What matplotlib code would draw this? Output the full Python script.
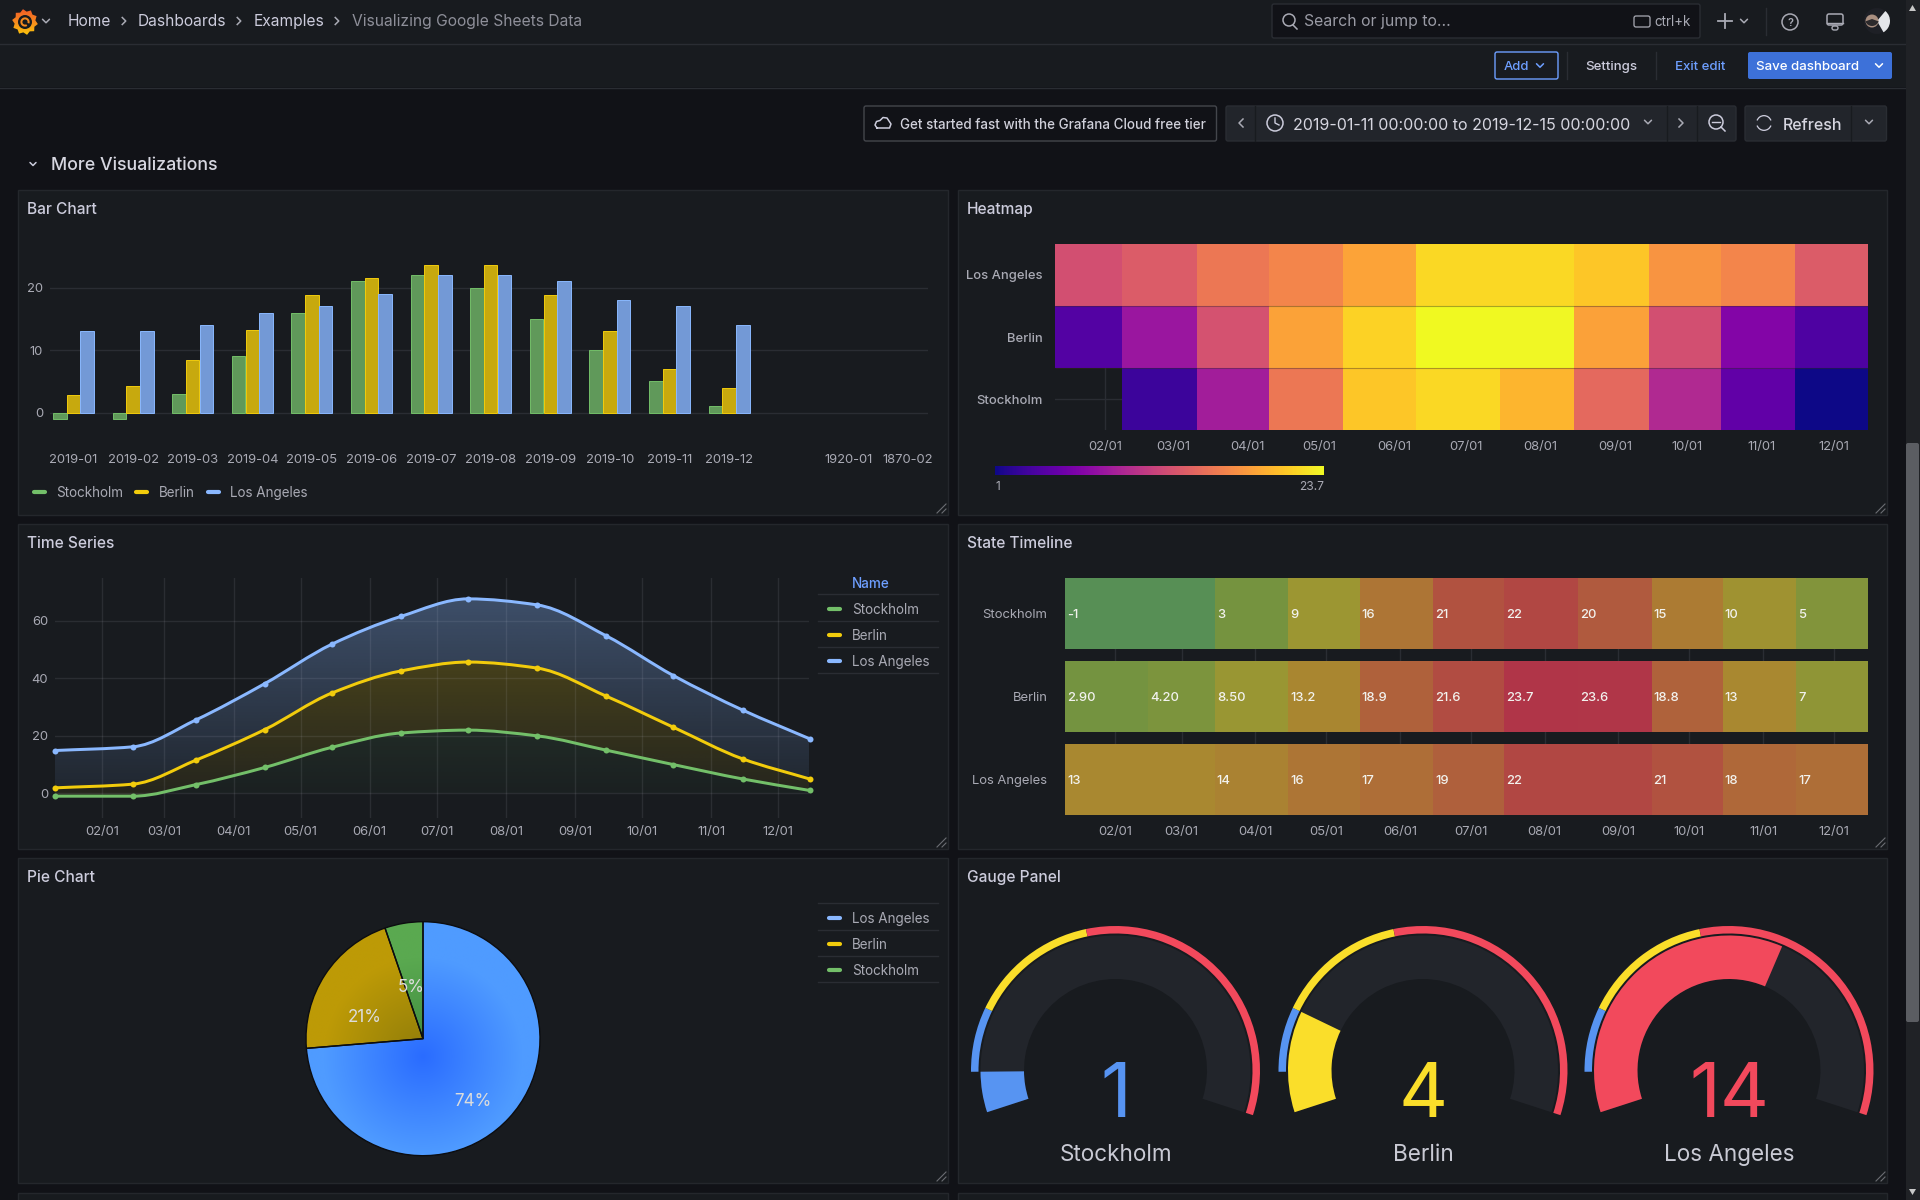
import numpy as np
import matplotlib
matplotlib.use("Agg")
import matplotlib.pyplot as plt
import matplotlib.dates as mdates
from datetime import datetime
from matplotlib.path import Path
from matplotlib.patches import Rectangle, FancyBboxPatch, Circle, Wedge, PathPatch, Polygon
from matplotlib.colors import LinearSegmentedColormap, to_rgb
from matplotlib.cm import ScalarMappable
from matplotlib.colors import Normalize

plt.rcParams['font.family'] = ['Inter', 'DejaVu Sans']

# data
cities = ["Stockholm", "Berlin", "Los Angeles"]
dates = ["2019-01-11", "2019-02-15", "2019-03-15", "2019-04-15", "2019-05-15", "2019-06-15",
         "2019-07-15", "2019-08-15", "2019-09-15", "2019-10-15", "2019-11-15", "2019-12-15"]
stockholm = [-1, -1, 3, 9, 16, 21, 22, 20, 15, 10, 5, 1]
berlin = [2.9, 4.2, 8.5, 13.2, 18.9, 21.6, 23.7, 23.6, 18.8, 13, 7, 4]
los_angeles = [13, 13, 14, 16, 17, 19, 22, 22, 21, 18, 17, 14]
berlin_labels = ["2.90", "4.20", "8.50", "13.2", "18.9", "21.6", "23.7", "23.6", "18.8", "13", "7", "4"]
bar_labels = ["2019-01", "2019-02", "2019-03", "2019-04", "2019-05", "2019-06", "2019-07", "2019-08",
              "2019-09", "2019-10", "2019-11", "2019-12", "", "1920-01", "1870-02"]
heat_edges = ["2019-01-11", "2019-02-08", "2019-03-11", "2019-04-10", "2019-05-11", "2019-06-10",
              "2019-07-15", "2019-08-15", "2019-09-15", "2019-10-15", "2019-11-15", "2019-12-15"]
pie_names = ["Los Angeles", "Berlin", "Stockholm"]
pie_values = [14, 4, 1]
pie_labels = ["74%", "21%", "5%"]
gauge_min = -1
gauge_max = 23.7
gauge_thresholds = [1, 4, 10, 23.7]

# colours
CANVAS = "#111217"
PANEL = "#181b1f"
BORDER = "#24272c"
GRID = "#2a2d33"
TEXT = "#ccccdc"
TEXT2 = "#a9aab4"
GREEN, YELLOW, BLUE = "#73bf69", "#f2cc0c", "#8ab8ff"
GAUGE_COLS = ["#5794f2", "#fade2a", "#f2495c"]

W, H = 1920, 1200
fig = plt.figure(figsize=(W / 100, H / 100), dpi=100, facecolor=CANVAS)


def ax_px(x0, y0, x1, y1):
    a = fig.add_axes([x0 / W, 1 - y1 / H, (x1 - x0) / W, (y1 - y0) / H])
    a.patch.set_alpha(0)
    return a


def date_nums(lst):
    return mdates.date2num([datetime.strptime(d, "%Y-%m-%d") for d in lst])


def pt(px):
    return px * 0.72


# background layer, in pixels
bg = ax_px(0, 0, W, H)
bg.set_xlim(0, W)
bg.set_ylim(H, 0)
bg.axis("off")


def rect(x0, y0, x1, y1, fc, ec="none", lw=1, z=1):
    bg.add_patch(Rectangle((x0, y0), x1 - x0, y1 - y0, fc=fc, ec=ec, lw=lw, zorder=z))


def rbox(x0, y0, x1, y1, fc, ec="none", lw=1, z=2):
    bg.add_patch(FancyBboxPatch((x0 + 2, y0 + 2), x1 - x0 - 4, y1 - y0 - 4, boxstyle="round,pad=2",
                                fc=fc, ec=ec, lw=lw, zorder=z))


def txt(x, y, s, px=14, c=TEXT, ha="left", w="normal"):
    bg.text(x, y, s, fontsize=pt(px), color=c, ha=ha, va="center_baseline", fontweight=w, zorder=5)


def chevron(x, y, c=TEXT2, s=3.5, up=False):
    d = -1 if up else 1
    bg.plot([x - s, x, x + s], [y - d * s / 2, y + d * s / 2, y - d * s / 2], color=c, lw=1.1, zorder=5,
            solid_capstyle="round")


def side(x, y, right=True, c=TEXT2, s=4):
    d = 1 if right else -1
    bg.plot([x - d * s / 2, x + d * s / 2, x - d * s / 2], [y - s, y, y + s], color=c, lw=1.1, zorder=5)


def vline(x, y0, y1, c=GRID):
    bg.plot([x, x], [y0, y1], color=c, lw=1, zorder=4)


def swatch(x0, x1, y, c):
    bg.plot([x0 + 2, x1 - 2], [y, y], color=c, lw=3, solid_capstyle="round", zorder=5)


def panel(x0, y0, x1, y1, title):
    rect(x0, y0, x1, y1, PANEL, ec=BORDER)
    txt(x0 + 9, y0 + 18, title, px=15.5, c=TEXT, w=500)
    for d in (5, 10):
        bg.plot([x1 - d - 1, x1 - 2], [y1 - 2, y1 - d - 1], color="#6b6d73", lw=0.8, zorder=5)


# top bars
rect(0, 0, W, 43.5, PANEL)
rect(0, 44, W, 87, PANEL)
bg.plot([0, W], [43.5, 43.5], color=GRID, lw=1, zorder=2)
bg.plot([0, W], [87.5, 87.5], color=GRID, lw=1, zorder=2)

# logo
ang = np.radians(np.arange(0, 360, 18) + 9)
rad_logo = np.where(np.arange(20) % 2 == 0, 13.0, 10.5)
star = Polygon(np.c_[25 + rad_logo * np.cos(ang), 22 + rad_logo * np.sin(ang)], fc="none", ec="none", zorder=3)
bg.add_patch(star)
logo = bg.imshow(np.linspace(0, 1, 32)[:, None], extent=(11, 39, 36, 8), aspect="auto", zorder=3, origin="upper",
                 cmap=LinearSegmentedColormap.from_list("logo", ["#f05a28", "#f78a1e", "#fbca0a"]))
logo.set_clip_path(star)
bg.set_xlim(0, W)
bg.set_ylim(H, 0)
bg.add_patch(Circle((25, 22), 7, fc=PANEL, zorder=4))
bg.add_patch(Wedge((25, 22), 4.6, 60, 380, width=2, fc="#f78a1e", zorder=4))
chevron(46, 21)

txt(68, 20, "Home", 15.5)
txt(138, 20, "Dashboards", 15.5)
txt(254, 20, "Examples", 15.5)
txt(352, 20, "Visualizing Google Sheets Data", 15.6, c="#8e8f99")
for sx in (124, 239, 337):
    side(sx, 21, s=3.5)

# search box and header icons
rbox(1272, 4, 1700, 38, CANVAS, ec=GRID)
bg.add_patch(Circle((1289, 20), 6, fc="none", ec=TEXT2, lw=1.1, zorder=5))
bg.plot([1293, 1297], [25, 29], color=TEXT2, lw=1.1, zorder=5)
txt(1304, 20, "Search or jump to...", 15.8, c="#9a9ba5")
rbox(1634, 16, 1650, 27, "none", ec=TEXT2, lw=0.9)
txt(1654, 21, "ctrl+k", 13.4, c=TEXT2)
bg.plot([1718, 1732], [21, 21], color=TEXT2, lw=1.3, zorder=5)
bg.plot([1725, 1725], [14, 28], color=TEXT2, lw=1.3, zorder=5)
chevron(1744, 21)
vline(1766, 8, 35)
bg.add_patch(Circle((1790, 22), 8, fc="none", ec=TEXT2, lw=1.1, zorder=5))
txt(1790, 22, "?", 11, c=TEXT2, ha="center", w=600)
rbox(1827, 14, 1843, 25, "none", ec=TEXT2, lw=1.1)
bg.plot([1827, 1843], [23, 23], color=TEXT2, lw=1, zorder=5)
rbox(1832, 26, 1838, 30, "none", ec=TEXT2, lw=1)
bg.add_patch(Circle((1877, 21), 13, fc="#1e2026", zorder=3))
bg.add_patch(Wedge((1877, 21), 13, -50, 60, fc="#e4e6ea", zorder=3))
bg.add_patch(Circle((1872, 21), 6.5, fc="#a98f80", zorder=4))
bg.add_patch(Wedge((1872, 19), 7, 20, 160, fc="#2c2a2c", zorder=4))

# toolbar
rbox(1495, 52, 1558, 79, "none", ec="#6e9fff", lw=1)
txt(1504, 65.5, "Add", 13, c="#6e9fff", w=500)
chevron(1540, 65.5, c="#6e9fff")
vline(1567, 52, 79)
txt(1611.5, 65.5, "Settings", 13.3, ha="center", w=500)
vline(1656, 52, 79)
txt(1700, 65.5, "Exit edit", 13.3, c="#6e9fff", ha="center", w=500)
rbox(1748, 52, 1892, 79, "#3d71d9")
txt(1756, 65.5, "Save dashboard", 13.3, c="#ffffff", w=500)
chevron(1879, 65.5, c="#ffffff")

# time controls
rbox(864, 106, 1216.5, 141, CANVAS, ec="#44464c")
txt(900, 123.5, "Get started fast with the Grafana Cloud free tier", 13.45, c="#d0d0da", w=500)
bg.plot([877, 875, 876.5, 880, 883, 887, 889, 891, 889.5, 877], [128, 125, 121.5, 120.5, 117.5, 118, 121, 124, 128, 128],
        color=TEXT, lw=1.1, zorder=5)
rbox(1226, 106, 1736, 141, "#22252b", ec=GRID)
for vx in (1255, 1667, 1697):
    vline(vx, 106, 141, c="#181b1f")
side(1241, 123, right=False)
bg.add_patch(Circle((1275, 123), 8, fc="none", ec=TEXT, lw=1.1, zorder=5))
bg.plot([1275, 1275, 1279], [118, 123, 125], color=TEXT, lw=1, zorder=5)
txt(1293, 123.5, "2019-01-11 00:00:00 to 2019-12-15 00:00:00", 16, c="#d6d6e0")
chevron(1648, 122)
side(1681, 123)
bg.add_patch(Circle((1716, 122), 7, fc="none", ec=TEXT, lw=1.1, zorder=5))
bg.plot([1712, 1720], [122, 122], color=TEXT, lw=1, zorder=5)
bg.plot([1721, 1725], [127, 131], color=TEXT, lw=1.1, zorder=5)
rbox(1745, 106, 1886.5, 141, "#22252b", ec=GRID)
vline(1851, 106, 141, c="#181b1f")
bg.add_patch(Wedge((1764, 123), 8, 20, 160, width=1.3, fc=TEXT, zorder=5))
bg.add_patch(Wedge((1764, 123), 8, 200, 340, width=1.3, fc=TEXT, zorder=5))
txt(1783, 123.5, "Refresh", 16, c="#d6d6e0", w=500)
chevron(1869, 122)

# row title
chevron(33, 164, c=TEXT, s=3)
txt(51, 164, "More Visualizations", 17.8, c="#d6d6e0", w=500)

# panels
panel(18, 190, 948, 515, "Bar Chart")
panel(958, 190, 1887, 515, "Heatmap")
panel(18, 524, 948, 849, "Time Series")
panel(958, 524, 1887, 849, "State Timeline")
panel(18, 858, 948, 1183, "Pie Chart")
panel(958, 858, 1887, 1183, "Gauge Panel")
rect(18, 1193, 948, 1201, PANEL, ec=BORDER)
rect(958, 1193, 1887, 1201, PANEL, ec=BORDER)

# scrollbar
rect(1905.5, 0, W, H, "#202226", z=3)
rbox(1906, 443, 1919, 1022, "#5b5d62", z=3)
bg.add_patch(Polygon([[1909, 11], [1912.5, 5], [1916, 11]], fc="#c8c8c8", zorder=5))
bg.add_patch(Polygon([[1909, 1189], [1912.5, 1195], [1916, 1189]], fc="#c8c8c8", zorder=5))


def style_axes(a):
    for s in a.spines.values():
        s.set_visible(False)
    a.tick_params(length=0, colors=TEXT2, labelsize=pt(13))


# bar chart
ax = ax_px(50, 230, 928, 445)
style_axes(ax)
slot = 59.6
ax.set_xlim((50 - 73.5) / slot, (928 - 73.5) / slot)
ax.set_ylim((412.7 - 445) / 6.25, (412.7 - 230) / 6.25)
x = np.arange(len(stockholm))
bar_w = 0.226
for off, vals, fc, ec in ((-1, stockholm, "#60995a", GREEN), (0, berlin, "#c7a90e", YELLOW), (1, los_angeles, "#7399d6", BLUE)):
    ax.bar(x + off * 0.23, vals, bar_w, color=fc, edgecolor=ec, lw=0.7, zorder=3)
ax.set_xticks(np.arange(len(bar_labels)))
ax.set_xticklabels(bar_labels)
ax.set_yticks([0, 10, 20])
ax.grid(axis="y", color=GRID, lw=1, zorder=0)
ax.tick_params(axis="x", pad=pt(9))
ax.tick_params(axis="y", pad=pt(7))

for i, (name, col) in enumerate(zip(cities, (GREEN, YELLOW, BLUE))):
    sx = [32, 134, 206][i]
    swatch(sx, sx + 15, 491.7, col)
    txt([56, 158.6, 229.6][i], 491.7, name, 13.5, c=TEXT2)

# heatmap
ax = ax_px(1055, 244, 1867.5, 430)
style_axes(ax)
month_loc = mdates.MonthLocator(bymonth=range(2, 13))
month_fmt = mdates.DateFormatter("%m/%d")
heat_vals = np.ma.masked_less([stockholm[1:], berlin[1:], los_angeles[1:]], 1)
he = date_nums(heat_edges)
mesh = ax.pcolormesh(he, [0, 1, 2, 3], heat_vals, cmap="plasma", vmin=1, vmax=23.7, zorder=2, edgecolors="none", antialiased=False)
ax.set_axisbelow(True)
ax.set_yticks([0.5, 1.5, 2.5])
ax.set_yticklabels(cities, fontweight=500)
ax.set_xlim(he[0], he[-1])
ax.set_ylim(0, 3)
ax.hlines([1, 2], he[0], he[-1], color="#3a2a20", lw=0.8, alpha=0.4, zorder=3)
ax.xaxis.set_major_locator(month_loc)
ax.xaxis.set_major_formatter(month_fmt)
ax.grid(color=GRID, lw=1, zorder=0)
ax.tick_params(axis="x", pad=pt(11))
ax.tick_params(axis="y", pad=pt(12))

cax = ax_px(995, 465.7, 1324, 475.3)
cb = fig.colorbar(ScalarMappable(Normalize(1, 23.7), "plasma"), cax=cax, orientation="horizontal")
cb.set_ticks([])
cb.outline.set_visible(False)
txt(995, 486, "1", 12, c=TEXT2)
txt(1324, 486, "23.7", 12, c=TEXT2, ha="right")


def smooth_path(xs, ys):
    # monotone cubic through the points, as bezier segments
    xs = np.asarray(xs, float)
    ys = np.asarray(ys, float)
    dx = np.diff(xs)
    sl = np.diff(ys) / dx
    m = np.zeros(len(xs))
    m[0], m[-1] = sl[0], sl[-1]
    for i in range(1, len(xs) - 1):
        if sl[i - 1] * sl[i] > 0:
            w1 = 2 * dx[i] + dx[i - 1]
            w2 = dx[i] + 2 * dx[i - 1]
            m[i] = (w1 + w2) / (w1 / sl[i - 1] + w2 / sl[i])
    verts = [(xs[0], ys[0])]
    for i in range(len(xs) - 1):
        verts.append((xs[i] + dx[i] / 3, ys[i] + m[i] * dx[i] / 3))
        verts.append((xs[i + 1] - dx[i] / 3, ys[i + 1] - m[i + 1] * dx[i] / 3))
        verts.append((xs[i + 1], ys[i + 1]))
    return verts


# time series, stacked
ax = ax_px(55, 578, 809.5, 818)
style_axes(ax)
tx = date_nums(dates)
ax.set_xlim(tx[0], tx[-1])
ylim_ts = ((793.3 - 818) / 2.872, (793.3 - 578) / 2.872)
ax.set_ylim(*ylim_ts)
ax.xaxis.set_major_locator(mdates.MonthLocator(bymonth=range(2, 13)))
ax.xaxis.set_major_formatter(month_fmt)
ax.set_yticks([0, 20, 40, 60])
ax.grid(color="#ccccdc", alpha=0.1, lw=1, zorder=4)
ax.set_axisbelow(False)
ax.tick_params(axis="x", pad=pt(7.7))
ax.tick_params(axis="y", pad=pt(7))

s1 = np.array(stockholm, float)
s2 = s1 + np.array(berlin)
s3 = s2 + np.array(los_angeles)
stacks = [(s1, None, GREEN, 0.10, 0.03), (s2, s1, YELLOW, 0.21, 0.06), (s3, s2, BLUE, 0.33, 0.07)]
for top, low, col, alpha_top, alpha_low in stacks:
    upper = smooth_path(tx, top)
    lower = smooth_path(tx, low)[::-1] if low is not None else [(tx[-1], 0), (tx[0], 0)]
    verts = upper + lower + [upper[0]]
    codes = [Path.MOVETO] + [Path.CURVE4] * (len(upper) - 1)
    if low is not None:
        codes += [Path.LINETO] + [Path.CURVE4] * (len(lower) - 1)
    else:
        codes += [Path.LINETO, Path.LINETO]
    codes += [Path.LINETO]
    clip = PathPatch(Path(verts, codes), transform=ax.transData, fc="none", ec="none")
    ax.add_patch(clip)
    grad = np.zeros((64, 2, 4))
    grad[..., :3] = to_rgb(col)
    grad[..., 3] = np.linspace(alpha_top, alpha_low, 64)[:, None]
    im = ax.imshow(grad, extent=(tx[0], tx[-1], -1, top.max()), aspect="auto", origin="upper", zorder=2, interpolation="bilinear")
    im.set_clip_path(clip)
ax.set_xlim(tx[0], tx[-1])
ax.set_ylim(*ylim_ts)
for top, low, col, alpha_top, alpha_low in stacks:
    up = smooth_path(tx, top)
    ax.add_patch(PathPatch(Path(up, [Path.MOVETO] + [Path.CURVE4] * (len(up) - 1)), fc="none", ec=col, lw=pt(3), zorder=5, clip_on=False))
    ax.plot(tx, top, "o", color=col, ms=pt(6), mew=0, zorder=6, clip_on=False)

txt(852, 583, "Name", 13.5, c="#6e9fff", w=500)
for y in (594, 621, 647, 673):
    bg.plot([818, 938], [y, y], color=GRID, lw=1, zorder=3)
for y, name, col in zip((608.7, 635, 660.7), cities, (GREEN, YELLOW, BLUE)):
    swatch(827, 842, y, col)
    txt(852, y, name, 13.5, c=TEXT2)

# state timeline
ax = ax_px(1065.3, 578, 1867.5, 815)
style_axes(ax)
state_cmap = LinearSegmentedColormap.from_list("state", [
    (0.0, "#578f55"), (4 / 24.7, "#75933f"), (10 / 24.7, "#9c9632"), (14 / 24.7, "#a98830"),
    (17 / 24.7, "#ad7535"), (22 / 24.7, "#b15340"), (1.0, "#b03548")])
norm = Normalize(gauge_min, gauge_max)
rows = [(stockholm, [str(v) for v in stockholm]), (berlin, berlin_labels), (los_angeles, [str(v) for v in los_angeles])]
for r, (vals, labs) in enumerate(rows):
    i = 0
    while i < len(vals) - 1:
        j = i + 1
        while j < len(vals) - 1 and vals[j] == vals[i]:
            j += 1
        ax.barh(r, tx[j] - tx[i], left=tx[i], height=0.852, color=state_cmap(norm(vals[i])), lw=0, zorder=2)
        ax.annotate(labs[i], (tx[i], r), xytext=(2, 0), textcoords="offset pixels", color="#f2f2ee",
                    fontsize=pt(13), fontweight=500, va="center_baseline", ha="left", zorder=3)
        i = j
ax.set_xlim(tx[0], tx[-1])
ax.set_ylim(2.426, -0.426)
ax.set_yticks([0, 1, 2])
ax.set_yticklabels(cities)
ax.xaxis.set_major_locator(mdates.MonthLocator(bymonth=range(2, 13)))
ax.xaxis.set_major_formatter(month_fmt)
ax.grid(axis="x", color=GRID, lw=1, zorder=0)
ax.set_axisbelow(True)
ax.tick_params(axis="x", pad=pt(10.5))
ax.tick_params(axis="y", pad=pt(18))

# pie
ax = ax_px(423 - 117, 1038.7 - 117, 423 + 117, 1038.7 + 117)
wedges, _ = ax.pie(pie_values, startangle=90, counterclock=False, radius=1,
                   wedgeprops=dict(fc="none", ec="#0c0d10", lw=1.0))
yy, xx = np.mgrid[-1:1:240j, -1:1:240j]
rad = np.hypot(xx, yy + 0.15)
pie_grads = [("#2a6cff", "#4f9bff"), ("#8f7c0a", "#bd9a06"), ("#3f8a3f", "#5aa950")]
for wg, (c0, c1) in zip(wedges, pie_grads):
    im = ax.imshow(rad, extent=(-1, 1, -1, 1), origin="lower", cmap=LinearSegmentedColormap.from_list("g", [c0, c1]),
                   vmin=0, vmax=0.85, zorder=0.5)
    im.set_clip_path(wg)
    wg.set_zorder(1)
ax.set_xlim(-1.0, 1.0)
ax.set_ylim(-1.0, 1.0)
ax.axis("off")
for (lx, ly), lab in zip(((473, 1099), (365, 1015), (411.5, 985)), pie_labels):
    ax.text((lx - 423) / 117, (1038.7 - ly) / 117, lab, fontsize=pt(17), color="#dcdcdc", ha="center",
            va="center_baseline", zorder=10)

for y in (903, 930, 956, 982):
    bg.plot([818, 938], [y, y], color=GRID, lw=1, zorder=3)
for y, name, col in zip((917.7, 943.7, 969.7), pie_names, (BLUE, YELLOW, GREEN)):
    swatch(827, 842, y, col)
    txt(852, y, name, 13.5, c=TEXT2)

# gauges
ax = ax_px(958, 858, 1887, 1183)
ax.set_xlim(958, 1887)
ax.set_ylim(-1183, -858)
ax.axis("off")


def gauge_angle(v):
    return 198 - (v - gauge_min) / (gauge_max - gauge_min) * 216


for cx, name, val in zip((1115.5, 1423, 1729), cities, (stockholm[-1], berlin[-1], los_angeles[-1])):
    cy = -1070.5
    ax.add_patch(Wedge((cx, cy), 135, gauge_angle(gauge_max), gauge_angle(gauge_min), width=43.5, fc="#22252b", lw=0))
    col = GAUGE_COLS[0]
    for i in range(3):
        ax.add_patch(Wedge((cx, cy), 144.5, gauge_angle(gauge_thresholds[i + 1]), gauge_angle(gauge_thresholds[i]),
                           width=7.5, fc=GAUGE_COLS[i], lw=0))
        if val >= gauge_thresholds[i]:
            col = GAUGE_COLS[i]
    ax.add_patch(Wedge((cx, cy), 135, gauge_angle(val), gauge_angle(gauge_min), width=43.5, fc=col, lw=0))
    ax.text(cx, -1116.7, str(val), fontsize=pt(76), color=col, ha="center", va="baseline")
    ax.text(cx, -1161, name, fontsize=pt(22.5), color="#c9cad4", ha="center", va="baseline")

fig.savefig("out.png", dpi=100, facecolor=CANVAS)
